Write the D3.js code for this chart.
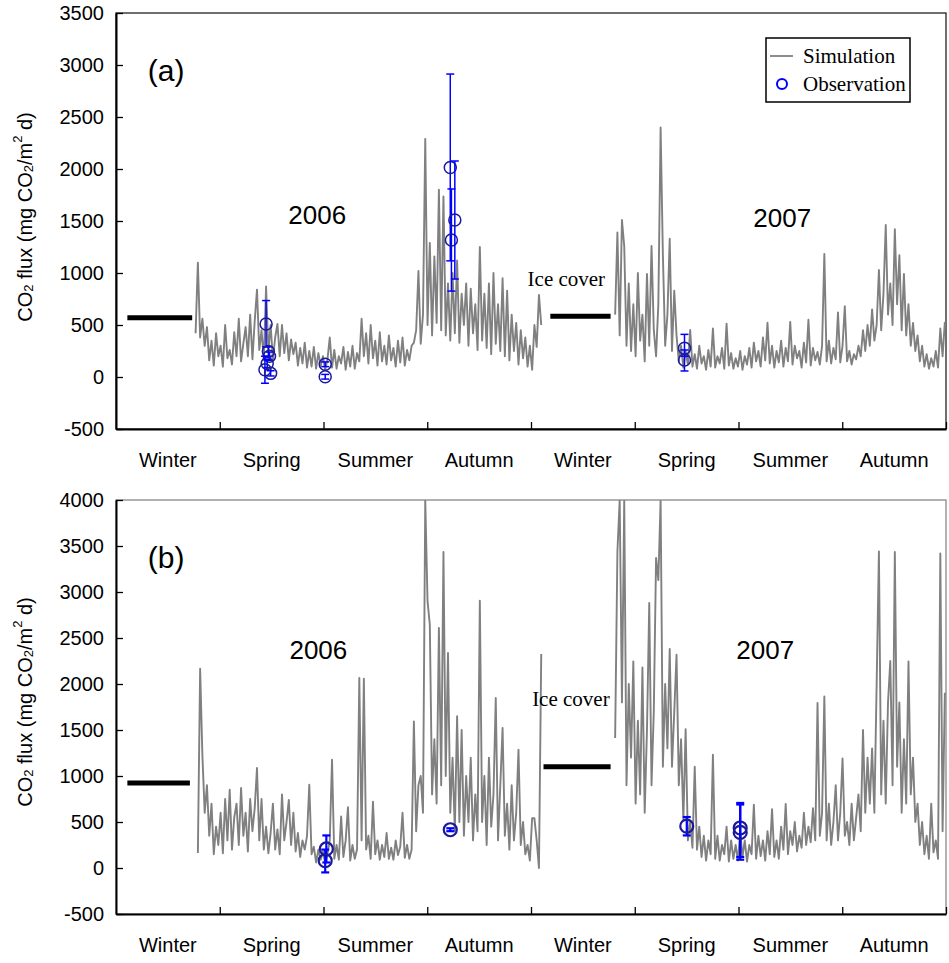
<!DOCTYPE html>
<html>
<head>
<meta charset="utf-8">
<script src="https://cdn.jsdelivr.net/npm/d3@7"></script>
<style>
body { margin: 0; background: #fff; }
text { font-family: Arial, "Liberation Sans", sans-serif; fill: #000; }
.serif { font-family: "Times New Roman", "Liberation Serif", serif; }
</style>
</head>
<body>
<svg id="chart" width="949" height="963"></svg>
<script>
// season labels under both panels (Dec 2005 - Nov 2007)
var seasons = ["Winter", "Spring", "Summer", "Autumn", "Winter", "Spring", "Summer", "Autumn"];
var yTicksA = [-500, 0, 500, 1000, 1500, 2000, 2500, 3000, 3500];
var yTicksB = [-500, 0, 500, 1000, 1500, 2000, 2500, 3000, 3500, 4000];

// simulated flux, one value every 2 days
var simStep = 2;
var simA2006Start = 70;
var simA2006 = [420, 1100, 380, 560, 300, 480, 160, 350, 110, 420, 200, 300, 100, 500, 180, 260, 120, 430, 200, 560,
    150, 320, 480, 200, 600, 170, 540, 840, 260, 450, 160, 870, 240, 500, 170, 380, 510, 200, 500, 230,
    420, 160, 360, 220, 330, 110, 280, 130, 330, 90, 250, 100, 290, 80, 230, 110, 200, 70, 170, 380,
    90, 260, 80, 200, 130, 290, 70, 240, 100, 300, 80, 230, 150, 560, 200, 420, 130, 500, 180, 350,
    110, 430, 150, 300, 120, 400, 160, 280, 100, 350, 140, 380, 110, 260, 160, 300, 330, 450, 1020, 320,
    600, 2290, 500, 1290, 400, 1160, 520, 1800, 450, 1735, 400, 900, 350, 1000, 420, 1120, 330, 800, 500, 900,
    300, 850, 420, 700, 260, 1250, 350, 800, 280, 900, 220, 1000, 320, 700, 250, 950, 200, 830, 160, 600,
    250, 520, 120, 450, 180, 380, 100, 300, 70, 500, 290, 790, 500];
var simA2007Start = 439;
var simA2007 = [600, 1390, 400, 1510, 1260, 300, 900, 250, 700, 200, 1000, 350, 600, 150, 990, 300, 1260, 450, 200, 700,
    2400, 1170, 300, 600, 1330, 250, 830, 400, 150, 300, 90, 250, 120, 452, 100, 220, 80, 300, 130, 200,
    70, 260, 100, 466, 90, 200, 130, 280, 80, 513, 110, 230, 80, 180, 100, 250, 70, 200, 120, 280,
    90, 330, 150, 250, 100, 380, 160, 522, 130, 300, 90, 250, 140, 350, 100, 280, 150, 530, 120, 300,
    180, 250, 90, 330, 140, 550, 110, 280, 160, 240, 120, 300, 1183, 150, 350, 130, 280, 170, 620, 140,
    300, 680, 150, 250, 120, 220, 170, 300, 200, 450, 250, 500, 300, 650, 350, 500, 1029, 450, 800, 1461,
    600, 900, 500, 1420, 700, 1170, 450, 990, 400, 700, 300, 520, 250, 400, 150, 300, 100, 220, 80, 180,
    100, 250, 90, 466, 200, 530];
var simB2006Start = 72;
var simB2006 = [163, 2166, 1220, 600, 900, 350, 700, 150, 450, 250, 600, 160, 750, 300, 850, 200, 550, 700, 250, 870,
    350, 600, 180, 750, 400, 650, 1087, 300, 750, 200, 450, 160, 380, 700, 200, 420, 150, 800, 300, 500,
    740, 250, 600, 180, 380, 120, 300, 200, 350, 905, 150, 230, 60, 200, 90, 180, 50, 150, 300, 1177,
    100, 250, 90, 560, 120, 300, 660, 80, 250, 100, 200, 2065, 300, 2058, 200, 350, 100, 720, 150, 300,
    90, 250, 120, 380, 100, 220, 90, 300, 140, 230, 600, 110, 250, 100, 200, 1594, 400, 900, 1000, 600,
    4000, 2900, 2645, 800, 1400, 700, 2610, 900, 3435, 1000, 2337, 600, 1200, 400, 1650, 500, 1500, 350, 1000, 500,
    1200, 300, 800, 400, 2905, 500, 1000, 250, 1200, 450, 800, 1848, 300, 900, 1522, 350, 700, 200, 900, 300,
    600, 1286, 250, 500, 150, 250, 80, 540, 540, 300, 0, 2326];
var simB2007Start = 439;
var simB2007 = [1413, 3441, 4000, 1800, 4000, 900, 2000, 1200, 2246, 700, 1600, 800, 2180, 600, 1500, 2880, 900, 1700, 3370, 3130,
    4000, 1100, 2000, 1300, 2380, 1100, 1700, 2318, 900, 1400, 520, 1510, 300, 500, 220, 1100, 200, 450, 120, 350,
    80, 300, 150, 1232, 100, 350, 80, 250, 150, 450, 70, 300, 100, 250, 80, 400, 120, 300, 70, 250,
    150, 688, 100, 350, 130, 300, 80, 400, 150, 640, 120, 300, 100, 450, 200, 695, 150, 400, 250, 500,
    180, 350, 220, 600, 250, 450, 280, 650, 300, 1793, 350, 600, 1866, 300, 700, 250, 500, 900, 300, 600,
    1190, 350, 500, 250, 700, 300, 550, 800, 400, 1500, 600, 1200, 700, 1300, 600, 2000, 3441, 800, 1600, 700,
    1800, 2250, 900, 3435, 1100, 1800, 600, 1400, 700, 2246, 800, 1200, 500, 700, 250, 500, 150, 350, 100, 700,
    170, 300, 100, 3420, 400, 1905];

// observations: day, value, error bar low / high
var obsA = [
    {day: 132, v: 510, lo: 290, hi: 735},
    {day: 134, v: 245, lo: 200, hi: 290},
    {day: 135, v: 200, lo: 160, hi: 240},
    {day: 133, v: 130, lo: 90, hi: 170},
    {day: 131, v: 70, lo: -60, hi: 200},
    {day: 136, v: 35, lo: 10, hi: 60},
    {day: 184, v: 122, lo: 100, hi: 145},
    {day: 184, v: 3, lo: -20, hi: 25},
    {day: 294, v: 2015, lo: 1117, hi: 2913},
    {day: 295, v: 1317, lo: 826, hi: 1808},
    {day: 298, v: 1510, lo: 942, hi: 2077},
    {day: 500, v: 276, lo: 200, hi: 410},
    {day: 500, v: 163, lo: 58, hi: 260}
];
var obsB = [
    {day: 185, v: 207, lo: 60, hi: 354},
    {day: 184, v: 79, lo: -48, hi: 200},
    {day: 294, v: 416, lo: 400, hi: 432},
    {day: 502, v: 455, lo: 354, hi: 554},
    {day: 549, v: 435, lo: 120, hi: 707},
    {day: 549, v: 387, lo: 90, hi: 690}
];

// ice cover periods (mean flux under ice)
var iceA = [{start: 10, end: 67, v: 570}, {start: 382, end: 435, v: 585}];
var iceB = [{start: 10, end: 65, v: 924}, {start: 376, end: 435, v: 1100}];

var svg = d3.select("#chart");
var x = d3.scaleLinear().domain([0, 730]).range([116, 946]);
var seasonLen = 730 / seasons.length;

function toPoints(start, vals) {
    return vals.map(function(v, i) { return {day: start + i * simStep, v: v}; });
}

function drawPanel(cfg) {
    var y = d3.scaleLinear().domain(cfg.yDomain).range([cfg.bottom, cfg.top]);
    var g = svg.append("g");

    g.append("clipPath").attr("id", "clip" + cfg.id)
        .append("rect")
        .attr("x", x(0)).attr("y", y(cfg.yDomain[1]))
        .attr("width", x(730) - x(0)).attr("height", y(cfg.yDomain[0]) - y(cfg.yDomain[1]));

    // frame top/right
    g.append("rect")
        .attr("x", x(0)).attr("y", y(cfg.yDomain[1]))
        .attr("width", x(730) - x(0)).attr("height", y(cfg.yDomain[0]) - y(cfg.yDomain[1]))
        .attr("fill", "none").attr("stroke", cfg.frameColor).attr("stroke-width", 1.3);

    var line = d3.line()
        .x(function(d) { return x(d.day); })
        .y(function(d) { return y(d.v); });

    var plot = g.append("g").attr("clip-path", "url(#clip" + cfg.id + ")");
    plot.selectAll("path.sim").data(cfg.sims)
        .enter().append("path")
        .attr("class", "sim")
        .attr("d", line)
        .attr("fill", "none")
        .attr("stroke", "#808080")
        .attr("stroke-width", 1.9)
        .attr("stroke-linejoin", "round");

    // ice cover bars
    g.selectAll("line.ice").data(cfg.ice)
        .enter().append("line")
        .attr("x1", function(d) { return x(d.start); })
        .attr("x2", function(d) { return x(d.end); })
        .attr("y1", function(d) { return y(d.v); })
        .attr("y2", function(d) { return y(d.v); })
        .attr("stroke", "#000").attr("stroke-width", 5);

    // observations with error bars
    var og = g.selectAll("g.obs").data(cfg.obs).enter().append("g");
    og.append("line")
        .attr("x1", function(d) { return x(d.day); }).attr("x2", function(d) { return x(d.day); })
        .attr("y1", function(d) { return y(d.lo); }).attr("y2", function(d) { return y(d.hi); })
        .attr("stroke", "#0000ff").attr("stroke-width", cfg.errWidth);
    ["lo", "hi"].forEach(function(k) {
        og.append("line")
            .attr("x1", function(d) { return x(d.day) - 4; }).attr("x2", function(d) { return x(d.day) + 4; })
            .attr("y1", function(d) { return y(d[k]); }).attr("y2", function(d) { return y(d[k]); })
            .attr("stroke", "#0000ff").attr("stroke-width", cfg.errWidth);
    });
    og.append("circle")
        .attr("cx", function(d) { return x(d.day); })
        .attr("cy", function(d) { return y(d.v); })
        .attr("r", cfg.radius)
        .attr("fill", "none").attr("stroke", "#1a1a9a").attr("stroke-width", cfg.circleWidth);

    // axes
    var yAxis = d3.axisLeft(y).tickValues(cfg.yTicks).tickSizeInner(-7).tickSizeOuter(0).tickPadding(12)
        .tickFormat(function(d) { return String(d); });
    var ya = g.append("g").attr("transform", "translate(" + x(0) + ",0)").call(yAxis);
    ya.select(".domain").attr("stroke-width", 2);
    ya.selectAll(".tick line").attr("stroke-width", 1.3);
    ya.selectAll(".tick text").style("font-size", "20px").attr("fill", "#000");

    var xAxis = d3.axisBottom(x).tickValues(d3.range(1, 9).map(function(k) { return k * seasonLen; }))
        .tickSizeInner(-7).tickSizeOuter(0).tickFormat("");
    var xa = g.append("g").attr("transform", "translate(0," + cfg.bottom + ")").call(xAxis);
    xa.select(".domain").attr("stroke-width", 2);
    xa.selectAll(".tick line").attr("stroke-width", 1.3);

    g.selectAll("text.season").data(seasons)
        .enter().append("text")
        .attr("x", function(d, i) { return x((i + 0.5) * seasonLen); })
        .attr("y", cfg.bottom + 38)
        .attr("text-anchor", "middle")
        .style("font-size", "20px")
        .text(function(d) { return d; });

    // y title
    var tt = g.append("text")
        .attr("transform", "translate(25," + cfg.titleY + ") rotate(-90)")
        .attr("text-anchor", "middle")
        .attr("dominant-baseline", "central")
        .style("font-size", "20px");
    tt.append("tspan").text("CO");
    tt.append("tspan").attr("baseline-shift", "-25%").style("font-size", "13px").text("2");
    tt.append("tspan").text(" flux (mg CO");
    tt.append("tspan").attr("baseline-shift", "-25%").style("font-size", "13px").text("2");
    tt.append("tspan").text("/m");
    tt.append("tspan").attr("baseline-shift", "super").style("font-size", "13px").text("2");
    tt.append("tspan").text(" d)");

    // annotations
    g.append("text").attr("x", x(cfg.tag.day)).attr("y", y(cfg.tag.v))
        .attr("dominant-baseline", "central").style("font-size", "30px").text(cfg.tag.text);
    cfg.years.forEach(function(t) {
        g.append("text").attr("x", x(t.day)).attr("y", y(t.v))
            .attr("text-anchor", "middle").attr("dominant-baseline", "central")
            .style("font-size", "26px").text(t.text);
    });
    g.append("text").attr("class", "serif").attr("x", x(cfg.iceText.day)).attr("y", y(cfg.iceText.v))
        .attr("dominant-baseline", "central").style("font-size", "21px").text("Ice cover");
    return g;
}

var gA = drawPanel({
    id: "a", top: 13, bottom: 429, yDomain: [-500, 3500], yTicks: yTicksA, frameColor: "#222",
    sims: [toPoints(simA2006Start, simA2006), toPoints(simA2007Start, simA2007)],
    obs: obsA, ice: iceA, radius: 6, circleWidth: 1.5, errWidth: 1.5, titleY: 217,
    tag: {day: 28, v: 2950, text: "(a)"},
    years: [{day: 177, v: 1560, text: "2006"}, {day: 586, v: 1530, text: "2007"}],
    iceText: {day: 362, v: 940}
});

drawPanel({
    id: "b", top: 500, bottom: 914, yDomain: [-500, 4000], yTicks: yTicksB, frameColor: "#888",
    sims: [toPoints(simB2006Start, simB2006), toPoints(simB2007Start, simB2007)],
    obs: obsB, ice: iceB, radius: 6.5, circleWidth: 2.2, errWidth: 2.2, titleY: 702,
    tag: {day: 28, v: 3370, text: "(b)"},
    years: [{day: 178, v: 2370, text: "2006"}, {day: 571, v: 2370, text: "2007"}],
    iceText: {day: 366, v: 1840}
});

// legend (panel a)
var leg = gA.append("g");
leg.append("rect").attr("x", 766).attr("y", 38).attr("width", 144).attr("height", 64)
    .attr("fill", "#fff").attr("stroke", "#000").attr("stroke-width", 1.5);
leg.append("line").attr("x1", 770).attr("x2", 793).attr("y1", 56).attr("y2", 56)
    .attr("stroke", "#808080").attr("stroke-width", 1.8);
leg.append("circle").attr("cx", 782).attr("cy", 84).attr("r", 5)
    .attr("fill", "none").attr("stroke", "#0000ff").attr("stroke-width", 2);
leg.append("text").attr("class", "serif").attr("x", 803).attr("y", 56)
    .attr("dominant-baseline", "central").style("font-size", "21px").text("Simulation");
leg.append("text").attr("class", "serif").attr("x", 803).attr("y", 84)
    .attr("dominant-baseline", "central").style("font-size", "21px").text("Observation");
</script>
</body>
</html>
